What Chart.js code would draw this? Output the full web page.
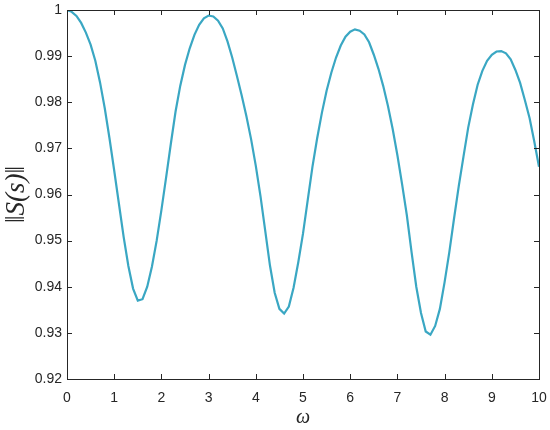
<!DOCTYPE html>
<html>
<head>
<meta charset="utf-8">
<script src="https://cdn.jsdelivr.net/npm/chart.js@4/dist/chart.umd.min.js"></script>
<style>
  html, body { margin: 0; padding: 0; background: #fff; }
  #wrap { width: 550px; height: 430px; }
</style>
</head>
<body>
<div id="wrap"><canvas id="plot" width="550" height="430"></canvas></div>
<script>
// omega samples, step 0.1
const omega = [
  0.0, 0.1, 0.2, 0.3, 0.4, 0.5, 0.6, 0.7, 0.8, 0.9,
  1.0, 1.1, 1.2, 1.3, 1.4, 1.5, 1.6, 1.7, 1.8, 1.9,
  2.0, 2.1, 2.2, 2.3, 2.4, 2.5, 2.6, 2.7, 2.8, 2.9,
  3.0, 3.1, 3.2, 3.3, 3.4, 3.5, 3.6, 3.7, 3.8, 3.9,
  4.0, 4.1, 4.2, 4.3, 4.4, 4.5, 4.6, 4.7, 4.8, 4.9,
  5.0, 5.1, 5.2, 5.3, 5.4, 5.5, 5.6, 5.7, 5.8, 5.9,
  6.0, 6.1, 6.2, 6.3, 6.4, 6.5, 6.6, 6.7, 6.8, 6.9,
  7.0, 7.1, 7.2, 7.3, 7.4, 7.5, 7.6, 7.7, 7.8, 7.9,
  8.0, 8.1, 8.2, 8.3, 8.4, 8.5, 8.6, 8.7, 8.8, 8.9,
  9.0, 9.1, 9.2, 9.3, 9.4, 9.5, 9.6, 9.7, 9.8, 9.9,
  10.0
];

// ||S(s)||
const sNorm = [
  1.0000, 0.9996, 0.9987, 0.9972, 0.9951, 0.9925, 0.9890, 0.9843, 0.9787, 0.9722,
  0.9652, 0.9580, 0.9508, 0.9445, 0.9396, 0.9370, 0.9373, 0.9400, 0.9444, 0.9500,
  0.9566, 0.9637, 0.9710, 0.9780, 0.9836, 0.9881, 0.9917, 0.9946, 0.9968, 0.9982,
  0.9988, 0.9986, 0.9977, 0.9960, 0.9932, 0.9897, 0.9857, 0.9815, 0.9770, 0.9720,
  0.9662, 0.9596, 0.9521, 0.9446, 0.9387, 0.9352, 0.9342, 0.9357, 0.9398, 0.9453,
  0.9515, 0.9588, 0.9660, 0.9722, 0.9777, 0.9825, 0.9864, 0.9897, 0.9923, 0.9942,
  0.9953, 0.9958, 0.9955, 0.9947, 0.9930, 0.9903, 0.9872, 0.9835, 0.9792, 0.9742,
  0.9685, 0.9622, 0.9555, 0.9475, 0.9400, 0.9343, 0.9303, 0.9296, 0.9315, 0.9352,
  0.9410, 0.9475, 0.9548, 0.9618, 0.9682, 0.9745, 0.9795, 0.9838, 0.9868, 0.9890,
  0.9903, 0.9910, 0.9911, 0.9906, 0.9893, 0.9870, 0.9842, 0.9805, 0.9766, 0.9715,
  0.9660
];

const X_TICKS = [0, 1, 2, 3, 4, 5, 6, 7, 8, 9, 10];
const Y_TICKS = [0.92, 0.93, 0.94, 0.95, 0.96, 0.97, 0.98, 0.99, 1];

const AXIS_COLOR = "#262626";
const LINE_COLOR = "#3AA7C3";
const TICK_FONT = { family: "Liberation Sans, Arial, sans-serif", size: 14 };

// MATLAB style box with inward ticks on all four sides
const boxTicks = {
  id: "boxTicks",
  afterDraw(chart) {
    const { ctx, chartArea: a, scales } = chart;
    const len = 5;
    ctx.save();
    ctx.strokeStyle = AXIS_COLOR;
    ctx.lineWidth = 1;
    ctx.beginPath();
    X_TICKS.forEach((v) => {
      const px = Math.round(scales.x.getPixelForValue(v)) + 0.5;
      ctx.moveTo(px, a.bottom); ctx.lineTo(px, a.bottom - len);
      ctx.moveTo(px, a.top); ctx.lineTo(px, a.top + len);
    });
    Y_TICKS.forEach((v) => {
      const py = Math.round(scales.y.getPixelForValue(v)) + 0.5;
      ctx.moveTo(a.left, py); ctx.lineTo(a.left + len, py);
      ctx.moveTo(a.right, py); ctx.lineTo(a.right - len, py);
    });
    ctx.stroke();
    ctx.strokeRect(Math.round(a.left) + 0.5, Math.round(a.top) + 0.5,
      Math.round(a.right - a.left), Math.round(a.bottom - a.top));
    ctx.restore();
  },
};

new Chart(document.getElementById("plot"), {
  type: "line",
  data: {
    datasets: [{
      data: omega.map((w, i) => ({ x: w, y: sNorm[i] })),
      borderColor: LINE_COLOR,
      borderWidth: 2.2,
      pointRadius: 0,
      tension: 0,
      fill: false,
    }],
  },
  options: {
    responsive: false,
    animation: false,
    layout: { padding: { top: 10, right: 11, left: 0, bottom: 0 } },
    plugins: { legend: { display: false }, tooltip: { enabled: false } },
    scales: {
      x: {
        type: "linear",
        min: 0,
        max: 10,
        afterBuildTicks: (s) => { s.ticks = X_TICKS.map((v) => ({ value: v })); },
        afterFit: (s) => { s.height = 51; s.paddingLeft = 0; s.paddingRight = 0; },
        grid: { display: false, drawTicks: false },
        border: { display: false },
        ticks: { color: AXIS_COLOR, font: TICK_FONT, padding: 11, maxRotation: 0 },
        title: {
          display: true,
          text: "ω",
          color: AXIS_COLOR,
          padding: 0,
          font: { family: "Liberation Serif, serif", size: 20, style: "italic" },
        },
      },
      y: {
        min: 0.92,
        max: 1,
        afterBuildTicks: (s) => { s.ticks = Y_TICKS.map((v) => ({ value: v })); },
        afterFit: (s) => { s.width = 67; s.paddingTop = 0; s.paddingBottom = 0; },
        grid: { display: false, drawTicks: false },
        border: { display: false },
        ticks: {
          color: AXIS_COLOR,
          font: TICK_FONT,
          padding: 5,
          callback: (v) => String(+v.toFixed(2)),
        },
        title: {
          display: true,
          text: "‖S(s)‖",
          color: AXIS_COLOR,
          padding: { top: 1, bottom: 0 },
          font: { family: "Liberation Serif, serif", size: 27, style: "italic" },
        },
      },
    },
  },
  plugins: [boxTicks],
});
</script>
</body>
</html>
